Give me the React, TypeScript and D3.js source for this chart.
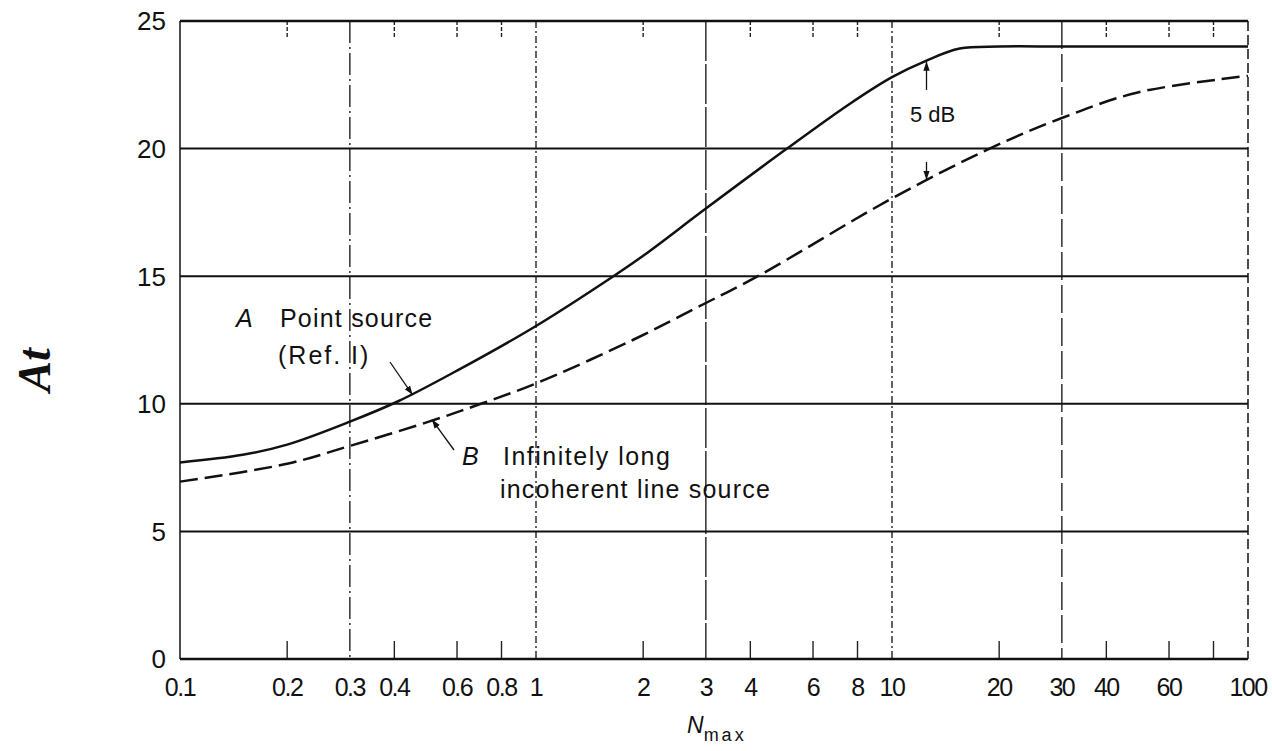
import React, { useEffect, useRef } from 'react';
import * as d3 from 'd3';

// curve A: point source (Ref. I)
const pointN = [0.1, 0.15, 0.2, 0.3, 0.41, 0.6, 1, 1.65, 2, 3, 5.07, 7.6, 10, 12.5, 15.5, 20, 30, 50, 100];
const pointAtt = [7.7, 8.0, 8.4, 9.3, 10.1, 11.3, 13.05, 15.0, 15.8, 17.65, 20.0, 21.75, 22.8, 23.45, 23.92, 24.0, 24.0, 24.0, 24.0];

// curve B: infinitely long incoherent line source
const lineN = [0.1, 0.2, 0.3, 0.5, 0.7, 1, 1.87, 3, 4.2, 10, 18.8, 30, 49, 100];
const lineAtt = [6.95, 7.65, 8.35, 9.3, 10.0, 10.8, 12.5, 13.95, 15.0, 18.05, 20.0, 21.2, 22.2, 22.85];

const yTicks = [0, 5, 10, 15, 20, 25];
const xLabels = [0.1, 0.2, 0.3, 0.4, 0.6, 0.8, 1, 2, 3, 4, 6, 8, 10, 20, 30, 40, 60, 100];
const minorTicks = [0.2, 0.4, 0.6, 0.8, 2, 4, 6, 8, 20, 40, 60, 80];
const gridN = [0.3, 1, 3, 10, 30];
const gridDash = ['22,4,2,4', '7,3,2,3', '40,3', '7,3,2,3', '28,5'];

const FONT = 'Liberation Sans, Arial, sans-serif';

export default function App() {
  const svgRef = useRef<SVGSVGElement>(null);

  useEffect(() => {
    if (!svgRef.current) return;
    const svg = d3.select(svgRef.current);
    svg.selectAll('*').remove();

    const x = d3.scaleLog().domain([0.1, 100]).range([180, 1248]);
    const y = d3.scaleLinear().domain([0, 25]).range([659, 21]);
    const [x0, x1] = x.range();
    const [y0, y1] = y.range();

    const defs = svg.append('defs');
    defs.append('marker')
      .attr('id', 'arr').attr('viewBox', '0 0 10 10')
      .attr('refX', 10).attr('refY', 5)
      .attr('markerWidth', 7).attr('markerHeight', 7)
      .attr('orient', 'auto')
      .append('path').attr('d', 'M0,1.5 L10,5 L0,8.5 Z').attr('fill', '#111');

    const g = svg.append('g');

    // vertical grid lines
    gridN.forEach((n, i) => {
      g.append('line')
        .attr('x1', x(n)).attr('x2', x(n)).attr('y1', y1).attr('y2', y0)
        .attr('stroke', '#222').attr('stroke-width', 1.4)
        .attr('stroke-dasharray', gridDash[i]);
    });

    // horizontal grid lines
    yTicks.filter(v => v > 0 && v < 25).forEach(v => {
      g.append('line')
        .attr('x1', x0).attr('x2', x1).attr('y1', y(v)).attr('y2', y(v))
        .attr('stroke', '#111').attr('stroke-width', 2);
    });

    // minor ticks top & bottom
    minorTicks.forEach(n => {
      g.append('line').attr('x1', x(n)).attr('x2', x(n)).attr('y1', y0).attr('y2', y0 - 18)
        .attr('stroke', '#222').attr('stroke-width', 1.4);
      g.append('line').attr('x1', x(n)).attr('x2', x(n)).attr('y1', y1).attr('y2', y1 + 18)
        .attr('stroke', '#222').attr('stroke-width', 1.4).attr('stroke-dasharray', '4,2');
    });

    // frame
    g.append('line').attr('x1', x0).attr('x2', x1).attr('y1', y1).attr('y2', y1)
      .attr('stroke', '#111').attr('stroke-width', 2.5);
    g.append('line').attr('x1', x0).attr('x2', x1).attr('y1', y0).attr('y2', y0)
      .attr('stroke', '#111').attr('stroke-width', 2.5);
    g.append('line').attr('x1', x0).attr('x2', x0).attr('y1', y1).attr('y2', y0)
      .attr('stroke', '#111').attr('stroke-width', 1.5);
    g.append('line').attr('x1', x1).attr('x2', x1).attr('y1', y1).attr('y2', y0)
      .attr('stroke', '#111').attr('stroke-width', 1.5).attr('stroke-dasharray', '10,4');

    // tick labels
    yTicks.forEach(v => {
      svg.append('text')
        .attr('x', 166).attr('y', y(v)).attr('dy', '0.36em')
        .attr('text-anchor', 'end').attr('fill', '#111')
        .style('font-family', FONT).style('font-size', '26px')
        .text(v);
    });
    xLabels.forEach(n => {
      svg.append('text')
        .attr('x', x(n)).attr('y', 696)
        .attr('text-anchor', 'middle').attr('fill', '#111')
        .style('font-family', FONT).style('font-size', '25px').style('letter-spacing', '-1.5px')
        .text(n);
    });

    // axis titles
    const xt = svg.append('text').attr('x', 687).attr('y', 733).attr('fill', '#111')
      .style('font-family', FONT);
    xt.append('tspan').style('font-size', '23px').style('font-style', 'italic').text('N');
    xt.append('tspan').attr('dy', 8).style('font-size', '18px').style('letter-spacing', '3px').text('max');

    svg.append('text')
      .attr('transform', 'translate(50,370) rotate(-90)')
      .attr('text-anchor', 'middle').attr('fill', '#111')
      .style('font-family', 'Liberation Serif, serif').style('font-style', 'italic').style('font-weight', 'bold')
      .style('font-size', '46px')
      .text('At');

    // curves
    const line = d3.line<[number, number]>()
      .x(d => x(d[0])).y(d => y(d[1]))
      .curve(d3.curveCatmullRom.alpha(0.5));

    g.append('path')
      .datum(pointN.map((n, i) => [n, pointAtt[i]] as [number, number]))
      .attr('fill', 'none').attr('stroke', '#111').attr('stroke-width', 2.5)
      .attr('d', line);

    g.append('path')
      .datum(lineN.map((n, i) => [n, lineAtt[i]] as [number, number]))
      .attr('fill', 'none').attr('stroke', '#111').attr('stroke-width', 2.5)
      .attr('stroke-dasharray', '18,7')
      .attr('d', line);

    // annotations
    const txt = (tx: number, ty: number, s: string, size: number, spacing = 0, italic = false) =>
      svg.append('text').attr('x', tx).attr('y', ty).attr('fill', '#111')
        .style('font-family', FONT).style('font-size', `${size}px`)
        .style('letter-spacing', `${spacing}px`)
        .style('font-style', italic ? 'italic' : 'normal')
        .text(s);

    txt(236, 327, 'A', 25, 0, true);
    txt(280, 327, 'Point source', 25, 1.2);
    txt(278, 364, '(Ref. I)', 25, 2);
    txt(462, 465, 'B', 25, 0, true);
    txt(503, 465, 'Infinitely long', 25, 1.5);
    txt(500, 498, 'incoherent  line source', 25, 1.2);
    txt(910, 122, '5 dB', 22, 0);

    const arrow = (ax: number, ay: number, bx: number, by: number) =>
      g.append('line').attr('x1', ax).attr('y1', ay).attr('x2', bx).attr('y2', by)
        .attr('stroke', '#111').attr('stroke-width', 1.3).attr('marker-end', 'url(#arr)');

    arrow(390, 362, x(0.45), y(10.35));
    arrow(454, 450, x(0.51), y(9.38));
    arrow(x(12.5), 90, x(12.5), y(23.45) + 1);
    arrow(x(12.5), 162, x(12.5), y(18.7) - 2);
  }, []);

  return (
    <svg
      ref={svgRef}
      width={1272}
      height={751}
      style={{ position: 'absolute', left: 0, top: 0, background: '#fff' }}
    />
  );
}
